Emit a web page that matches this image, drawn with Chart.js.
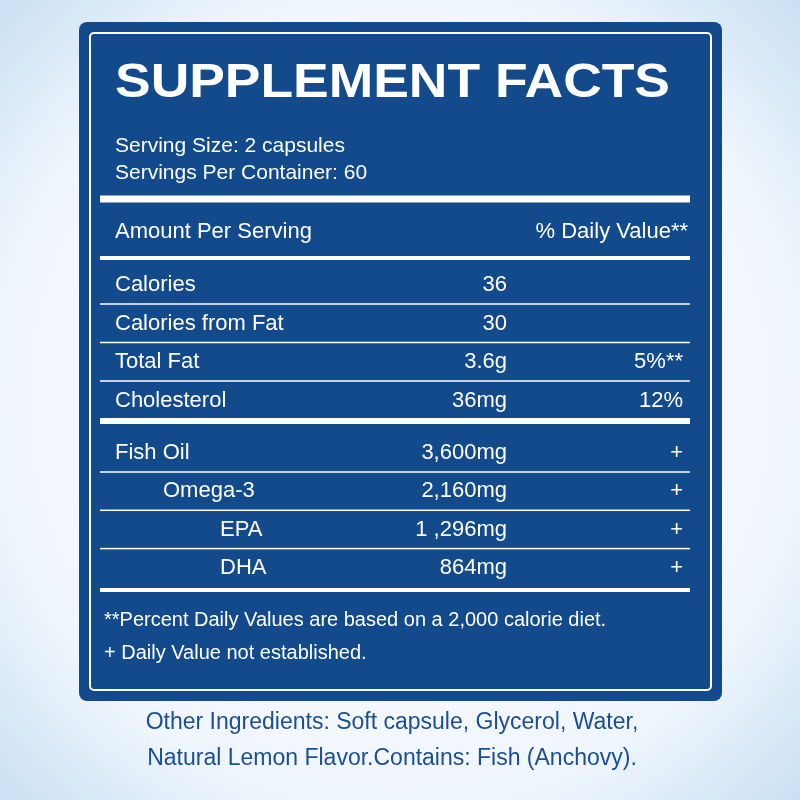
<!DOCTYPE html>
<html><head><meta charset="utf-8">
<script src="https://cdn.jsdelivr.net/npm/chart.js@4"></script>
<style>html,body{margin:0;padding:0;background:#fff}#c{display:block}</style>
</head><body>
<div style="width:800px;height:800px"><canvas id="c" width="800" height="800"></canvas></div>
<script>
// label rows
const title = 'SUPPLEMENT FACTS';
const servingLines = ['Serving Size: 2 capsules', 'Servings Per Container: 60'];
const headerLeft = 'Amount Per Serving';
const headerRight = '% Daily Value**';
const nutrients = ['Calories', 'Calories from Fat', 'Total Fat', 'Cholesterol'];
const nutrientAmounts = ['36', '30', '3.6g', '36mg'];
const nutrientDV = ['', '', '5%**', '12%'];
const oils = ['Fish Oil', 'Omega-3', 'EPA', 'DHA'];
const oilAmounts = ['3,600mg', '2,160mg', '1 ,296mg', '864mg'];
const oilDV = ['+', '+', '+', '+'];
const oilIndent = [0, 1, 2, 2];
const footnotes = ['**Percent Daily Values are based on a 2,000 calorie diet.', '+ Daily Value not established.'];
const otherIngredients = ['Other Ingredients: Soft capsule, Glycerol, Water,', 'Natural Lemon Flavor.Contains: Fish (Anchovy).'];

const F = 'Liberation Sans, Arial, sans-serif';

const labelPlugin = {
  id: 'label',
  beforeDraw(chart) {
    const c = chart.ctx, W = chart.width, H = chart.height;
    const y = v => chart.scales.y.getPixelForValue(v);
    const x = v => chart.scales.x.getPixelForValue(v);
    // background
    const g = c.createRadialGradient(W / 2, H / 2, 100, W / 2, H / 2, 620);
    g.addColorStop(0, '#ffffff'); g.addColorStop(0.6, '#eef5fc'); g.addColorStop(1, '#bcd8f0');
    c.fillStyle = g; c.fillRect(0, 0, W, H);
    // panel
    c.fillStyle = '#124a8c';
    c.beginPath(); c.roundRect(x(79), y(22), x(722) - x(79), y(701) - y(22), 8); c.fill();
    c.strokeStyle = '#ffffff'; c.lineWidth = 2;
    c.beginPath(); c.roundRect(x(90), y(33), x(711) - x(90), y(690) - y(33), 4); c.stroke();

    c.fillStyle = '#fff'; c.textBaseline = 'middle';
    // title fitted to width
    c.font = 'bold 48px ' + F;
    const tw = c.measureText(title).width;
    c.save(); c.translate(x(115), y(84)); c.scale(555 / tw, 1);
    c.textAlign = 'left'; c.fillText(title, 0, 0); c.restore();

    c.font = '21px ' + F; c.textAlign = 'left';
    servingLines.forEach((s, i) => c.fillText(s, x(115), y(146 + i * 27)));

    const hline = (yy, w) => { c.fillRect(x(100), y(yy) - w / 2, x(690) - x(100), w); };
    hline(199, 7);
    c.font = '22px ' + F;
    c.fillText(headerLeft, x(115), y(232));
    c.textAlign = 'right'; c.fillText(headerRight, x(688), y(232));
    hline(258, 4);

    const row = (lbl, amt, dv, yy, ind) => {
      c.textAlign = 'left'; c.fillText(lbl, x(115 + ind), y(yy));
      c.textAlign = 'right'; c.fillText(amt, x(507), y(yy));
      if (dv) c.fillText(dv, x(683), y(yy));
    };
    nutrients.forEach((n, i) => {
      row(n, nutrientAmounts[i], nutrientDV[i], 285 + i * 38.5, 0);
      if (i < nutrients.length - 1) hline(304 + i * 38.5, 1.5);
    });
    hline(421, 6);
    oils.forEach((n, i) => {
      row(n, oilAmounts[i], oilDV[i], 453 + i * 38.3, [0, 48, 105][oilIndent[i]]);
      if (i < oils.length - 1) hline(472 + i * 38.3, 1.5);
    });
    hline(590, 4);

    c.textAlign = 'left'; c.font = '20px ' + F;
    footnotes.forEach((s, i) => c.fillText(s, x(104), y(620 + i * 33)));

    c.fillStyle = '#1b4e94'; c.textAlign = 'center'; c.font = '23px ' + F;
    otherIngredients.forEach((s, i) => c.fillText(s, x(392), y(723 + i * 36)));
  }
};

new Chart(document.getElementById('c'), {
  type: 'scatter',
  data: { datasets: [{ data: [] }] },
  options: {
    responsive: false, animation: false,
    layout: { padding: 0 },
    plugins: { legend: { display: false }, tooltip: { enabled: false } },
    scales: {
      x: { type: 'linear', min: 0, max: 800, display: false },
      y: { type: 'linear', min: 0, max: 800, reverse: true, display: false }
    }
  },
  plugins: [labelPlugin]
});
</script>
</body></html>
